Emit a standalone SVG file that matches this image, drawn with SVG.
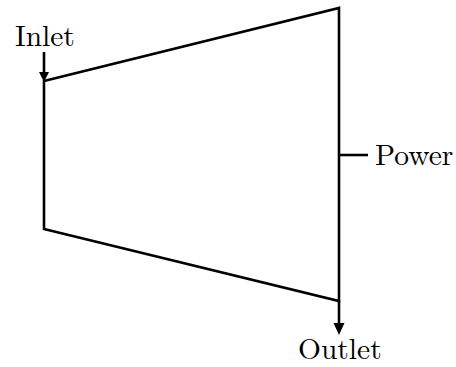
<svg xmlns="http://www.w3.org/2000/svg" width="456" height="367" viewBox="0 0 456 367">
<style>
.l{fill:none;stroke:#000;stroke-width:2.6}
.t{font-family:"Latin Modern Roman","Liberation Serif",serif;font-size:29.5px;fill:#000}
.h{fill:#000;stroke:none}
</style>
<g id="connectors">
<path class="l" d="M44 52V74"/>
<path class="h" d="M39 72H49L44 82Z"/>
<path class="l" d="M339 301V326"/>
<path class="h" d="M333.500 323H344.500L339 335Z"/>
<path class="l" d="M339 155H368"/>
</g>
<g id="turbine"><path class="l" d="M44 81L339 8V301L44 229Z"/></g>
<g id="inlet"><text class="t" x="15" y="46">Inlet</text></g>
<g id="power"><text class="t" x="375" y="165">Power</text></g>
<g id="outlet"><text class="t" x="298" y="359">Outlet</text></g>
</svg>
